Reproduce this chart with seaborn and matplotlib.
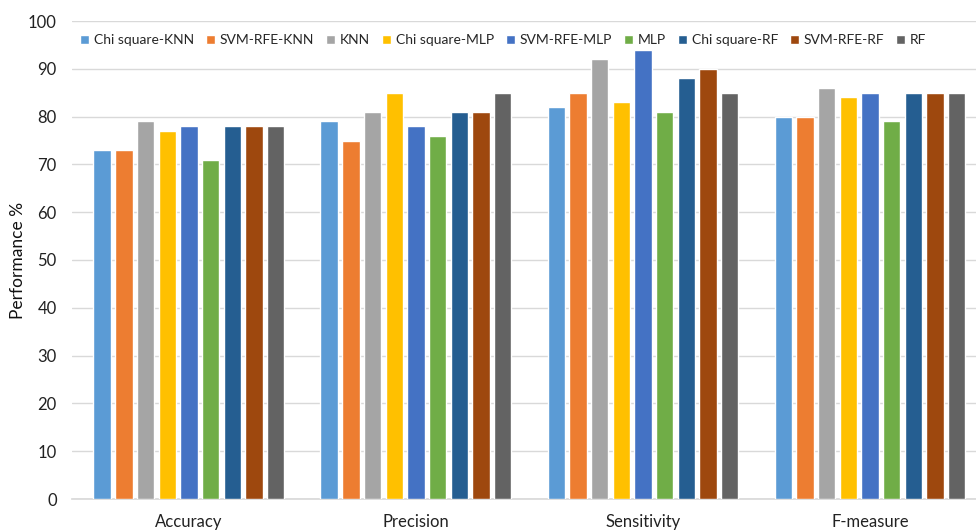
import matplotlib
matplotlib.use("Agg")
import matplotlib.pyplot as plt
import pandas as pd
import seaborn as sns

metrics = ["Accuracy", "Precision", "Sensitivity", "F-measure"]
models = [
    "Chi square-KNN", "SVM-RFE-KNN", "KNN", "Chi square-MLP", "SVM-RFE-MLP",
    "MLP", "Chi square-RF", "SVM-RFE-RF", "RF",
]
chi_knn = [73, 79, 82, 80]
svm_knn = [73, 75, 85, 80]
knn = [79, 81, 92, 86]
chi_mlp = [77, 85, 83, 84]
svm_mlp = [78, 78, 94, 85]
mlp = [71, 76, 81, 79]
chi_rf = [78, 81, 88, 85]
svm_rf = [78, 81, 90, 85]
rf = [78, 85, 85, 85]

colors = ["#5B9BD5", "#ED7D31", "#A5A5A5", "#FFC000", "#4472C4",
          "#70AD47", "#255E91", "#9E480E", "#636363"]

series = [chi_knn, svm_knn, knn, chi_mlp, svm_mlp, mlp, chi_rf, svm_rf, rf]
rows = []
for name, vals in zip(models, series):
    for m, v in zip(metrics, vals):
        rows.append({"metric": m, "model": name, "value": v})
df = pd.DataFrame(rows)

sns.set_theme(style="white")
plt.rcParams["font.family"] = ["Lato", "DejaVu Sans"]

fig = plt.figure(figsize=(9.76, 5.31), dpi=100)
ax = fig.add_axes([72 / 976, 32 / 531, 904 / 976, 478 / 531])

sns.barplot(
    data=df, x="metric", y="value", hue="model",
    order=metrics, hue_order=models, palette=colors,
    width=0.86, gap=0.2, saturation=1, ax=ax, zorder=3,
)

ax.set_ylim(0, 100)
ax.set_yticks(range(0, 101, 10))
ax.set_xlim(-0.515, 3.467)
ax.yaxis.grid(True, color="#D9D9D9", linewidth=1, zorder=0)
for s in ["top", "right", "left"]:
    ax.spines[s].set_visible(False)
ax.spines["bottom"].set_color("#D9D9D9")
ax.tick_params(axis="both", length=0, labelsize=12, colors="#222222")
ax.tick_params(axis="x", pad=11)
ax.tick_params(axis="y", pad=11)
ax.set_xlabel("")
ax.set_ylabel("Performance %", fontsize=12.5, color="#111111", labelpad=1)

leg = ax.legend(
    loc="upper left", bbox_to_anchor=(0.0, 0.99), ncol=9, frameon=False,
    fontsize=10, handlelength=0.65, handleheight=0.65, handletextpad=0.35,
    columnspacing=0.85, borderaxespad=0.2,
)

fig.savefig("out.png", dpi=100)
